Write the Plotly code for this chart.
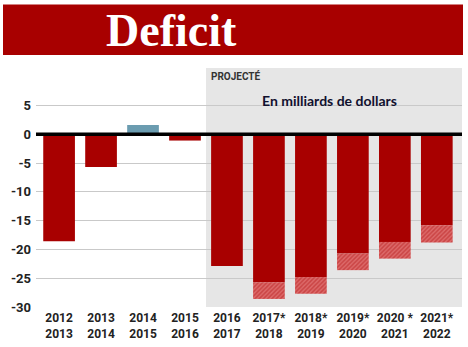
import plotly.graph_objects as go

categories = ["2012<br>2013", "2013<br>2014", "2014<br>2015", "2015<br>2016",
              "2016<br>2017", "2017*<br>2018", "2018*<br>2019", "2019*<br>2020",
              "2020 *<br>2021", "2021*<br>2022"]
solid_values = [-18.6, -5.7, 1.6, -1.1, -22.9, -25.7, -24.8, -20.7, -18.7, -15.8]
extra_values = [0, 0, 0, 0, 0, -2.9, -2.9, -2.9, -2.9, -3.0]
y_ticks = [5, 0, -5, -10, -15, -20, -25, -30]

RED = "#a80000"
BLUE = "#6b9cb0"

x_idx = list(range(len(categories)))
solid_colors = [BLUE if v > 0 else RED for v in solid_values]

fig = go.Figure()
fig.add_trace(go.Bar(x=x_idx, y=solid_values, marker=dict(color=solid_colors, line=dict(width=0)),
                     hoverinfo="skip"))
fig.add_trace(go.Bar(x=x_idx, y=extra_values,
                     marker=dict(color="#dc6a6a", line=dict(width=0),
                                 pattern=dict(shape="/", fgcolor="#b81e1e", size=3, solidity=0.5)),
                     hoverinfo="skip"))

L, R, T, B = 36, 6, 68, 38
W, H = 468, 347
pw, ph = W - L - R, H - T - B

def px(xp):
    return (xp - L) / pw

def py(yp):
    return (H - B - yp) / ph

shapes = [
    dict(type="rect", xref="x", yref="paper", x0=3.5, x1=9.6, y0=0, y1=1,
         fillcolor="#e6e6e6", line=dict(width=0), layer="below"),
    dict(type="rect", xref="paper", yref="paper", x0=px(3), x1=px(463), y0=py(55), y1=py(4),
         fillcolor=RED, line=dict(width=0), layer="above"),
    dict(type="line", xref="paper", yref="y", x0=0, x1=1, y0=0, y1=0,
         line=dict(color="black", width=3.5), layer="above"),
]

annotations = [
    dict(text="<b>Deficit</b>", xref="paper", yref="paper", x=px(104), y=py(30),
         xanchor="left", yanchor="middle", showarrow=False,
         font=dict(family="Liberation Serif", size=46, color="white")),
    dict(text="<b>PROJECTÉ</b>", xref="paper", yref="paper", x=px(209), y=py(76),
         xanchor="left", yanchor="middle", showarrow=False,
         font=dict(family="Roboto", size=10, color="#333333")),
    dict(text="En milliards de dollars", xref="paper", yref="paper", x=px(329), y=py(101),
         xanchor="center", yanchor="middle", showarrow=False,
         font=dict(family="Lato", size=14, color="#10102e", weight=700)),
]

fig.update_layout(
    width=W, height=H,
    margin=dict(l=L, r=R, t=T, b=B),
    paper_bgcolor="white", plot_bgcolor="white",
    barmode="relative", bargap=0.245,
    showlegend=False,
    shapes=shapes, annotations=annotations,
    xaxis=dict(range=[-0.55, 9.6], tickmode="array", tickvals=x_idx,
               ticktext=[f"<b>{c}</b>".replace("<br>", "</b><br><b>") for c in categories],
               showgrid=False, zeroline=False, showline=False, ticks="", ticklabelstandoff=2,
               tickfont=dict(family="Roboto", size=12, color="#222222")),
    yaxis=dict(range=[-30, 11.5], tickmode="array", tickvals=y_ticks,
               ticktext=[f"<b>{v}</b>" for v in y_ticks],
               showgrid=True, gridcolor="#c9c9c9", gridwidth=1, zeroline=False,
               showline=False, ticks="", ticklabelstandoff=4,
               tickfont=dict(family="Roboto", size=13, color="#222222")),
)

fig.write_html("out.html")
